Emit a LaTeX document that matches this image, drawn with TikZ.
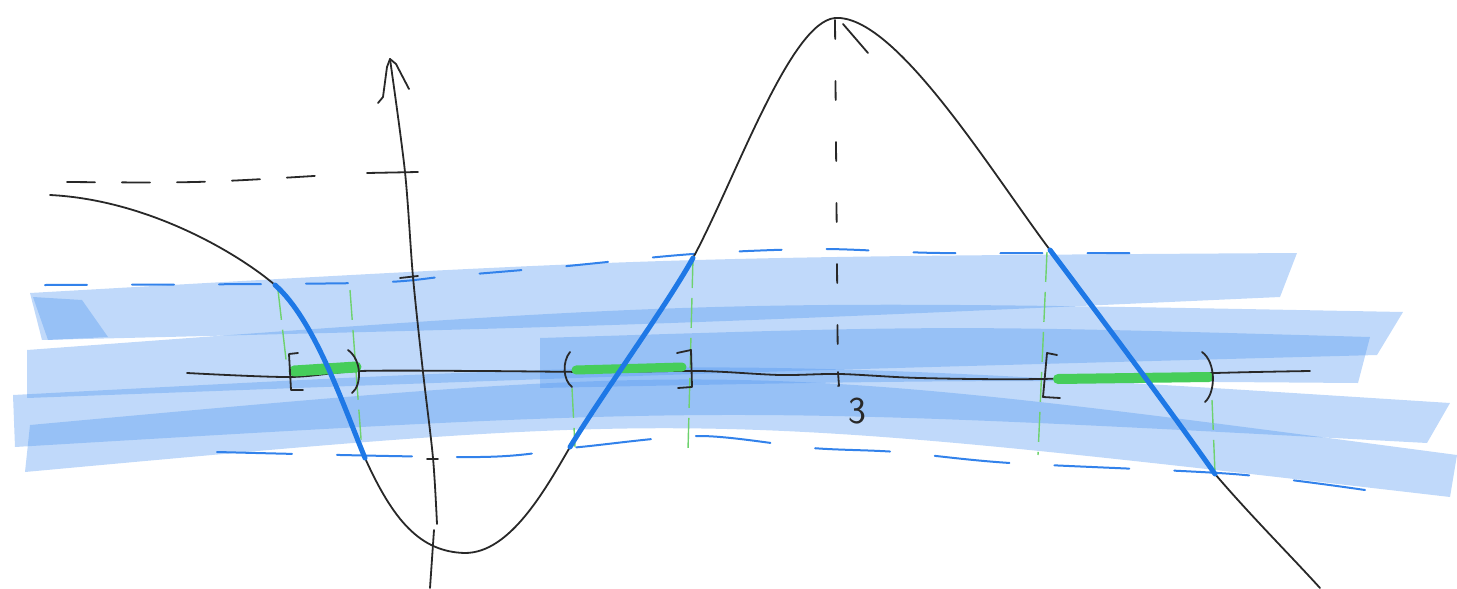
\documentclass[tikz,border=0pt]{standalone}
\usepackage{fontspec}
\definecolor{bandblue}{RGB}{80,150,240}
\definecolor{segblue}{RGB}{30,120,230}
\definecolor{dashblue}{RGB}{50,130,235}
\definecolor{greenbar}{RGB}{70,205,90}
\definecolor{greenline}{RGB}{110,210,110}
\definecolor{ink}{RGB}{40,40,40}
\tikzset{
  band/.style={fill=bandblue, fill opacity=0.36, draw=none},
  bluedash/.style={draw=dashblue, line width=2pt, line cap=round},
  inkline/.style={draw=ink, line width=1.8pt, line cap=round, line join=round},
  seg/.style={draw=segblue, line width=5pt, line cap=round},
  gdash/.style={draw=greenline, line width=1.4pt, dash pattern=on 30pt off 10pt},
  gbar/.style={draw=greenbar, line cap=round},
  bracket/.style={draw=ink, line width=1.8pt, line cap=round, line join=round}
}
\begin{document}
\begin{tikzpicture}[x=1pt,y=-1pt]
\useasboundingbox (0,0) rectangle (1457,589);

% blue brush bands
\fill[band] (30,293) .. controls (663,257) .. (1297,253) -- (1280,297) .. controls (660,325) .. (42,340) -- cycle;
\fill[band] (33,297) -- (82,300) -- (108,337) -- (48,340) -- cycle;
\fill[band] (27,350) .. controls (715,299) .. (1403,312) -- (1377,355) .. controls (700,373) .. (27,398) -- cycle;
\fill[band] (540,338) .. controls (950,325) .. (1370,337) -- (1358,383) .. controls (950,380) .. (540,388) -- cycle;
\fill[band] (13,395) .. controls (730,357) .. (1450,403) -- (1427,443) .. controls (720,405) .. (15,447) -- cycle;
\fill[band] (30,425) .. controls (740,360) .. (1457,455) -- (1450,497) .. controls (700,410) .. (25,472) -- cycle;

% blue dashed bounds
\draw[bluedash, dash pattern=on 42pt off 45pt] plot[smooth] coordinates {(45,285) (360,283) (450,276) (557,267) (693,254) (820,249) (940,253) (1140,253)};
\draw[bluedash, dash pattern=on 75pt off 45pt] plot[smooth] coordinates {(217,452) (480,457) (580,447) (700,436) (812,448) (897,452) (1010,463) (1233,474) (1365,490)};

% green dashed verticals
\draw[gdash] (278,290) -- (287,368);
\draw[gdash] (350,290) -- (362,452);
\draw[gdash] (572,388) -- (575,447);
\draw[gdash] (693,258) -- (688,450);
\draw[gdash] (1047,252) -- (1038,455);
\draw[gdash] (1212,400) -- (1215,473);

% black dashed guides
\draw[inkline, dash pattern=on 28pt off 27pt] (67,182) .. controls (200,183) .. (330,175);
\draw[inkline] (367,173) -- (418,172);
\draw[inkline, dash pattern=on 19pt off 42pt] (835,20) -- (838,386);
\draw[inkline] (838,372) -- (839,386);

% axes
\draw[inkline] plot[smooth] coordinates {(187,373) (290,377) (360,371) (480,371) (600,372) (700,371) (780,375) (840,374) (920,378) (1040,379) (1215,373) (1310,371)};
\draw[inkline] plot[smooth] coordinates {(437,524) (433,458) (423,372) (413,277) (405,172) (390,59)};
\draw[inkline] (378,103) -- (383,97) -- (387,67) -- (390,59) -- (396,64) -- (409,89);
\draw[inkline] (434,530) -- (430,588);
\draw[inkline] (400,278) -- (418,276);
\draw[inkline] (427,459) -- (438,459);

% green bars on axis
\draw[gbar, line width=11pt] (294,371) -- (356,367);
\draw[gbar, line width=9pt] (576,370) -- (682,367);
\draw[gbar, line width=10pt] (1058,379) -- (1209,377);

% curve
\coordinate (P0) at (50,195);
\coordinate (P1) at (275,285);
\coordinate (P2) at (365,458);
\coordinate (P3) at (465,553);
\coordinate (P4) at (570,447);
\coordinate (P5) at (693,258);
\coordinate (P6) at (835,18);
\coordinate (P7) at (1050,250);
\coordinate (P8) at (1215,474);
\coordinate (P9) at (1320,588);
\draw[inkline] (P0) .. controls (150,200) and (240,255) .. (P1)
  .. controls (315,320) and (345,410) .. (P2)
  .. controls (393,520) and (420,552) .. (P3)
  .. controls (510,553) and (545,490) .. (P4)
  .. controls (605,390) and (665,308) .. (P5)
  .. controls (735,180) and (790,22) .. (P6)
  .. controls (895,14) and (990,170) .. (P7)
  .. controls (1110,330) and (1170,410) .. (P8)
  .. controls (1250,515) and (1290,555) .. (P9);
\draw[inkline] (843,24) -- (868,53);

% highlighted pieces
\draw[seg] (P1) .. controls (315,320) and (345,410) .. (P2);
\draw[seg] (P4) .. controls (605,390) and (665,308) .. (P5);
\draw[seg] (P7) .. controls (1110,330) and (1170,410) .. (P8);

% brackets
\draw[bracket] (298,353) -- (289,354) -- (291,390) -- (303,390);
\draw[bracket] (348,350) .. controls (362,360) and (362,385) .. (352,393);
\draw[bracket] (570,352) .. controls (562,362) and (563,380) .. (572,387);
\draw[bracket] (677,353) -- (691,350) -- (692,387) -- (678,388);
\draw[bracket] (1057,355) -- (1047,353) -- (1043,397) -- (1060,398);
\draw[bracket] (1202,352) .. controls (1216,362) and (1216,392) .. (1205,402);

% label
\node[font=\sffamily\fontsize{38}{38}\selectfont, text=ink] (three) at (857,411) {3};
\end{tikzpicture}
\end{document}
